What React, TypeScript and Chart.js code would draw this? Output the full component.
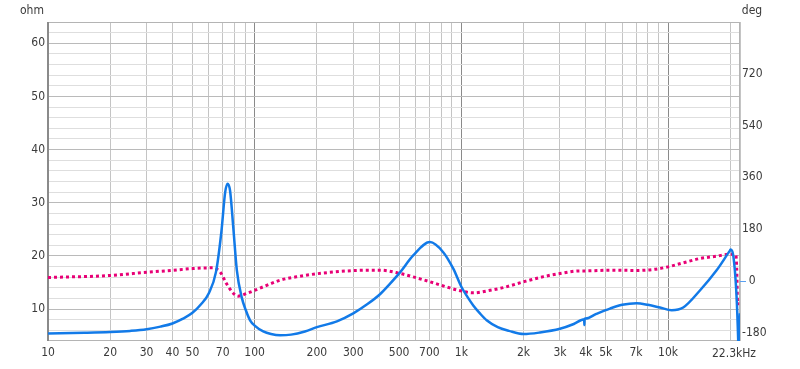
import React, { useEffect, useRef } from "react";
import { Chart, registerables } from "chart.js";

Chart.register(...registerables);

// Impedance magnitude (ohm) vs frequency (Hz)
const freqZ = [10, 15, 20, 25, 30, 35, 40, 45, 50, 55, 60, 65, 69, 72, 74, 76, 79, 82, 86.5, 91, 95, 100, 110, 120, 133, 150, 175, 200, 250, 300, 350, 404, 450, 505, 585, 705, 817, 914, 1003, 1070, 1142, 1230, 1326, 1500, 1700, 2000, 2400, 3000, 3500, 3930, 3938, 3946, 3990, 4500, 5236, 6000, 7047, 8000, 9148, 10420, 11844, 14267, 17180, 19930, 20100, 20680, 21470, 21860, 22000, 22300];
const impedance = [5.4, 5.55, 5.7, 5.9, 6.2, 6.7, 7.3, 8.2, 9.3, 10.9, 13.0, 17.0, 24.5, 32.0, 33.6, 32.3, 24.8, 17.3, 12.25, 9.6, 7.9, 6.9, 5.8, 5.3, 5.07, 5.2, 5.8, 6.6, 7.7, 9.2, 10.9, 12.8, 14.7, 16.9, 20.1, 22.6, 20.7, 17.6, 14.1, 12.3, 10.7, 9.2, 7.9, 6.6, 5.9, 5.3, 5.6, 6.3, 7.2, 8.1, 7.0, 8.15, 8.22, 9.1, 10.1, 10.8, 11.1, 10.8, 10.3, 9.8, 10.3, 13.5, 17.3, 21.0, 21.2, 20.1, 12.25, 4.1, 0, 9.2];

// Phase (deg) vs frequency (Hz)
const freqPhase = [10, 20, 30, 40, 50, 60, 63, 68, 73, 79, 83, 91.5, 110, 133, 166, 200, 300, 404, 505, 585, 705, 845, 1003, 1142, 1380, 1600, 2000, 2500, 3000, 3760, 4000, 5236, 7047, 8500, 10000, 11844, 14267, 17180, 19930, 21000, 21300, 21500, 21720, 22100];
const phase = [11, 18, 29, 36, 42, 44.5, 44.5, 30.6, -10, -44.5, -54, -44.5, -21.5, 1.7, 15.6, 24, 35, 36.5, 25, 13, -4, -21.5, -36.5, -42.4, -33.5, -24, -4, 14, 25, 34, 34, 36.5, 35.5, 39, 48, 62, 77, 85, 92, 91, 89, 40, -79, -80];

// Axis ticks
const xTickValues = [10, 20, 30, 40, 50, 60, 70, 80, 90, 100, 200, 300, 400, 500, 600, 700, 800, 900, 1000, 2000, 3000, 4000, 5000, 6000, 7000, 8000, 9000, 10000, 20000, 22300];
const xTickLabels: Record<number, string> = { 10: "10", 20: "20", 30: "30", 40: "40", 50: "50", 70: "70", 100: "100", 200: "200", 300: "300", 500: "500", 700: "700", 1000: "1k", 2000: "2k", 3000: "3k", 4000: "4k", 5000: "5k", 7000: "7k", 10000: "10k" };
const lastXLabel = "22.3kHz";
const ohmTicks = [6, 8, 10, 12, 14, 16, 18, 20, 22, 24, 26, 28, 30, 32, 34, 36, 38, 40, 42, 44, 46, 48, 50, 52, 54, 56, 58, 60, 62];
const degTicks = [-180, 0, 180, 360, 540, 720];

const FONT = '"DejaVu Sans Condensed", "Liberation Sans", sans-serif';
const TEXT = "#3a3a3a";
const BLUE = "rgb(18,122,232)";
const PINK = "rgb(232,0,118)";

export default function App() {
  const ref = useRef<HTMLCanvasElement | null>(null);

  useEffect(() => {
    if (!ref.current) return;
    const decorations = {
      id: "decorations",
      beforeDatasetsDraw(chart: any) {
        const { ctx, chartArea: a } = chart;
        ctx.save();
        ctx.lineWidth = 1;
        ctx.strokeStyle = "#b4b4b4";
        ctx.beginPath();
        ctx.moveTo(a.left, a.top + 0.5);
        ctx.lineTo(a.right, a.top + 0.5);
        ctx.moveTo(a.right - 0.5, a.top);
        ctx.lineTo(a.right - 0.5, a.bottom);
        ctx.moveTo(a.left, a.bottom - 0.5);
        ctx.lineTo(a.right, a.bottom - 0.5);
        ctx.stroke();
        ctx.strokeStyle = "#8a8a8a";
        ctx.lineWidth = 2;
        ctx.beginPath();
        ctx.moveTo(a.left, a.top);
        ctx.lineTo(a.left, a.bottom);
        ctx.stroke();
        ctx.restore();
      },
      afterDraw(chart: any) {
        const { ctx, chartArea: a } = chart;
        const xs = chart.scales.x;
        const y1 = chart.scales.y1;
        ctx.save();
        ctx.font = `12px ${FONT}`;
        ctx.fillStyle = TEXT;
        ctx.textBaseline = "middle";
        ctx.textAlign = "center";
        ctx.fillText("ohm", 32, 11);
        ctx.fillText("deg", 752, 11);
        ctx.fillText(lastXLabel, xs.getPixelForValue(22300) - 6, 354);
        // zero marker on the phase axis
        const y0 = Math.round(y1.getPixelForValue(0)) + 0.5;
        ctx.strokeStyle = "rgb(90,160,240)";
        ctx.lineWidth = 1;
        ctx.beginPath();
        ctx.moveTo(a.right, y0);
        ctx.lineTo(a.right + 6, y0);
        ctx.stroke();
        ctx.restore();
      },
    };

    const chart = new Chart(ref.current, {
      type: "line",
      data: {
        datasets: [
          {
            label: "Impedance",
            data: freqZ.map((f, i) => ({ x: f, y: impedance[i] })),
            yAxisID: "y",
            borderColor: BLUE,
            borderWidth: 2.5,
            pointRadius: 0,
            cubicInterpolationMode: "monotone",
            order: 1,
          },
          {
            label: "Phase",
            data: freqPhase.map((f, i) => ({ x: f, y: phase[i] })),
            yAxisID: "y1",
            borderColor: PINK,
            borderWidth: 3,
            borderDash: [3, 3],
            borderCapStyle: "butt",
            pointRadius: 0,
            cubicInterpolationMode: "monotone",
            order: 2,
          },
        ],
      },
      options: {
        responsive: false,
        animation: false,
        layout: { padding: { top: 22, left: 0, right: 0, bottom: 0 } },
        plugins: { legend: { display: false }, tooltip: { enabled: false } },
        scales: {
          x: {
            type: "logarithmic",
            min: 10,
            max: 22300,
            afterBuildTicks: (s: any) => {
              s.ticks = xTickValues.map((v) => ({ value: v }));
            },
            afterFit: (s: any) => {
              s.height = 28;
            },
            grid: {
              drawTicks: false,
              color: (c: any) => {
                const v = c.tick && c.tick.value;
                if (v === 10 || v === 100 || v === 1000 || v === 10000) return "#8a8a8a";
                return "#c4c4c4";
              },
            },
            border: { display: false },
            ticks: {
              autoSkip: false,
              maxRotation: 0,
              padding: 5,
              color: TEXT,
              font: { family: FONT, size: 12 },
              callback: (v: any) => xTickLabels[Number(v)] || "",
            },
          },
          y: {
            type: "linear",
            position: "left",
            min: 4,
            max: 64,
            afterBuildTicks: (s: any) => {
              s.ticks = ohmTicks.map((v) => ({ value: v }));
            },
            afterFit: (s: any) => {
              s.width = 48;
            },
            grid: {
              drawTicks: false,
              color: (c: any) => {
                const v = c.tick && c.tick.value;
                return v % 10 === 0 ? "#bababa" : "#dedede";
              },
            },
            border: { display: false },
            ticks: {
              autoSkip: false,
              padding: 3,
              color: TEXT,
              font: { family: FONT, size: 12 },
              callback: (v: any) => (Number(v) % 10 === 0 ? String(v) : ""),
            },
          },
          y1: {
            type: "linear",
            position: "right",
            min: -210,
            max: 900,
            afterBuildTicks: (s: any) => {
              s.ticks = degTicks.map((v) => ({ value: v }));
            },
            afterFit: (s: any) => {
              s.width = 60;
            },
            grid: { display: false, drawOnChartArea: false, drawTicks: false },
            border: { display: false },
            ticks: {
              autoSkip: false,
              padding: 2,
              color: TEXT,
              font: { family: FONT, size: 12 },
              callback: (v: any) => (Number(v) === 0 ? "  0" : String(v)),
            },
          },
        },
      },
      plugins: [decorations],
    } as any);
    return () => chart.destroy();
  }, []);

  return (
    <div style={{ position: "fixed", left: 0, top: 0, width: 800, height: 369, background: "#fff" }}>
      <canvas ref={ref} width={800} height={369} />
    </div>
  );
}
